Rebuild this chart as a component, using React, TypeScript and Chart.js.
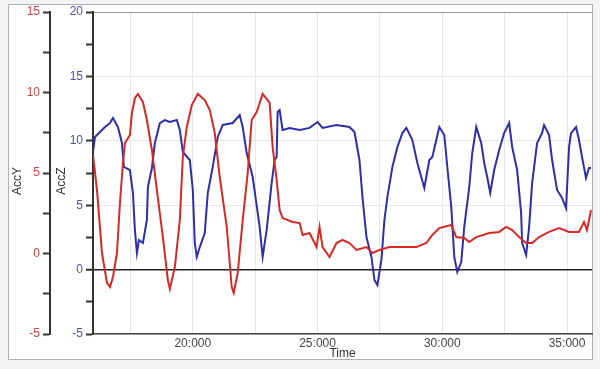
import React, { useEffect, useRef } from "react";
import { Chart, registerables } from "chart.js";

Chart.register(...registerables);

// AccY (red) samples: time in ms, value
const timeY = [16000, 16160, 16360, 16560, 16680, 16800, 16960, 17080, 17200, 17280, 17480, 17560, 17680, 17800, 18000, 18160, 18360, 18560, 18800, 19000, 19080, 19280, 19480, 19600, 19760, 19960, 20200, 20480, 20680, 20880, 21080, 21360, 21560, 21640, 21800, 22000, 22200, 22360, 22560, 22800, 23080, 23200, 23360, 23480, 23600, 24000, 24280, 24400, 24680, 24960, 25080, 25200, 25480, 25760, 26000, 26280, 26560, 26960, 27200, 27480, 27880, 28400, 28960, 29360, 29600, 29880, 30360, 30560, 30880, 31080, 31360, 31880, 32280, 32560, 32800, 33080, 33360, 33600, 33880, 34280, 34680, 35080, 35480, 35680, 35800, 35960];
const accY = [6.12, 3.94, 0.03, -1.83, -2.08, -1.46, 0.03, 3.14, 5.62, 6.86, 7.36, 8.73, 9.66, 9.91, 9.41, 8.29, 6.43, 3.94, 1.02, -1.65, -2.2, -0.84, 2.08, 5.99, 7.86, 9.22, 9.91, 9.53, 8.91, 7.48, 4.75, 1.65, -2.08, -2.45, -1.21, 2.08, 5.0, 8.29, 8.79, 9.91, 9.35, 6.61, 4.57, 2.7, 2.2, 1.96, 1.89, 1.15, 1.27, 0.4, 1.65, 0.4, -0.22, 0.65, 0.84, 0.65, 0.22, 0.4, 0.03, 0.22, 0.4, 0.4, 0.4, 0.65, 1.15, 1.58, 1.77, 1.02, 0.96, 0.71, 1.02, 1.27, 1.34, 1.65, 1.46, 1.02, 0.65, 0.65, 1.02, 1.34, 1.58, 1.34, 1.34, 1.96, 1.46, 2.7];

// AccZ (blue) samples: time in ms, value
const timeZ = [16000, 16080, 16280, 16480, 16680, 16800, 17000, 17160, 17240, 17480, 17600, 17680, 17760, 17840, 18000, 18160, 18200, 18360, 18480, 18680, 18880, 19080, 19360, 19480, 19600, 19880, 20000, 20080, 20160, 20280, 20480, 20600, 20800, 21000, 21200, 21600, 21880, 22000, 22160, 22400, 22680, 22800, 22960, 23160, 23280, 23360, 23400, 23480, 23600, 23880, 24280, 24680, 25000, 25200, 25760, 26280, 26480, 26680, 26800, 26960, 27160, 27280, 27400, 27560, 27680, 27800, 28000, 28200, 28400, 28560, 28800, 29000, 29280, 29480, 29600, 29760, 29880, 30080, 30200, 30360, 30480, 30600, 30760, 30880, 31080, 31200, 31360, 31560, 31680, 31800, 31920, 32080, 32280, 32480, 32680, 32800, 33000, 33160, 33200, 33360, 33480, 33600, 33800, 34000, 34080, 34280, 34400, 34600, 34800, 34960, 35080, 35160, 35360, 35480, 35600, 35760, 35880, 35960];
const accZ = [9.13, 10.3, 10.68, 11.07, 11.38, 11.77, 11.07, 9.83, 7.97, 7.73, 5.95, 3.07, 1.29, 2.3, 2.07, 3.85, 6.41, 7.89, 9.83, 11.38, 11.61, 11.46, 11.61, 10.84, 9.13, 8.51, 6.18, 2.07, 0.98, 1.75, 2.84, 5.95, 7.97, 10.3, 11.23, 11.38, 12.0, 11.07, 9.05, 7.19, 3.31, 0.98, 3.07, 6.72, 8.51, 8.74, 12.24, 12.39, 10.84, 11.0, 10.84, 11.0, 11.46, 11.0, 11.23, 11.07, 10.68, 8.51, 5.64, 2.53, 0.98, -0.81, -1.2, 0.75, 3.85, 5.64, 7.97, 9.52, 10.6, 11.0, 10.06, 8.28, 6.34, 8.51, 8.74, 10.06, 11.07, 10.45, 7.97, 4.86, 0.98, -0.19, 0.59, 3.31, 6.41, 9.05, 11.07, 9.83, 8.28, 7.19, 5.95, 7.73, 9.29, 10.6, 11.38, 9.52, 7.73, 4.39, 2.07, 1.13, 3.31, 6.72, 9.83, 10.6, 11.22, 10.45, 8.51, 6.18, 5.56, 4.78, 9.52, 10.6, 11.07, 10.06, 8.74, 7.11, 7.89, 7.89];

const timeTicks = [17500, 20000, 22500, 25000, 27500, 30000, 32500, 35000];
const timeRange = [16000, 36000];
const accYRange = [-5, 15];
const accZRange = [-5, 20];

const FONT = "'Liberation Sans', Arial, sans-serif";

function fmtTime(v: number): string {
  const s = Math.floor(v / 1000);
  const ms = Math.round(v % 1000);
  return `${s}:${String(ms).padStart(3, "0")}`;
}

// draws the rotated y-axis titles a little below the vertical centre, as in the original
const axisTitles = {
  id: "axisTitles",
  afterDraw(chart: any) {
    const ctx = chart.ctx;
    const yY = chart.scales.yY;
    const yZ = chart.scales.yZ;
    const cy = (chart.chartArea.top + chart.chartArea.bottom) / 2 + 8;
    ctx.save();
    ctx.fillStyle = "#333";
    ctx.font = `12px ${FONT}`;
    ctx.textAlign = "center";
    ctx.textBaseline = "middle";
    [
      { text: "AccY", x: yY.left + 18 },
      { text: "AccZ", x: yZ.left + 12 },
    ].forEach((t) => {
      ctx.save();
      ctx.translate(t.x, cy);
      ctx.rotate(-Math.PI / 2);
      ctx.fillText(t.text, 0, 0);
      ctx.restore();
    });
    ctx.restore();
  },
};

export default function App() {
  const ref = useRef<HTMLCanvasElement | null>(null);

  useEffect(() => {
    if (!ref.current) return;
    const chart = new Chart(ref.current, {
      type: "line",
      data: {
        datasets: [
          {
            label: "AccY",
            data: timeY.map((t, i) => ({ x: t, y: accY[i] })),
            borderColor: "#d42a26",
            borderWidth: 2,
            pointRadius: 0,
            tension: 0,
            yAxisID: "yY",
          },
          {
            label: "AccZ",
            data: timeZ.map((t, i) => ({ x: t, y: accZ[i] })),
            borderColor: "#2e2ea8",
            borderWidth: 2,
            pointRadius: 0,
            tension: 0,
            yAxisID: "yZ",
          },
        ],
      },
      options: {
        responsive: false,
        animation: false,
        layout: { padding: { left: 0, top: 12, right: 8, bottom: 0 } },
        plugins: { legend: { display: false }, tooltip: { enabled: false } },
        scales: {
          x: {
            type: "linear",
            min: timeRange[0],
            max: timeRange[1],
            afterBuildTicks: (axis: any) => {
              axis.ticks = timeTicks.map((v) => ({ value: v }));
            },
            afterFit: (s: any) => {
              s.height = 35;
            },
            ticks: {
              padding: 2,
              maxRotation: 0,
              autoSkip: false,
              color: "#444",
              font: { family: FONT, size: 12 },
              callback: (v: any) => (Number(v) % 5000 === 0 ? fmtTime(Number(v)) : ""),
            },
            grid: { color: "#e6e6e6", drawTicks: false },
            border: { color: "#444", width: 1.5 },
            title: {
              display: true,
              text: "Time",
              color: "#333",
              font: { family: FONT, size: 12 },
              padding: { top: 0, bottom: 8 },
            },
          },
          yY: {
            type: "linear",
            position: "left",
            weight: 2,
            min: accYRange[0],
            max: accYRange[1],
            afterFit: (s: any) => {
              s.width = 50;
            },
            ticks: {
              stepSize: 2.5,
              padding: 3,
              color: "#c84848",
              font: { family: FONT, size: 12 },
              callback: (v: any) => (Number(v) % 5 === 0 ? String(v) : ""),
            },
            grid: {
              drawOnChartArea: false,
              tickLength: 7,
              tickColor: "#333",
              tickWidth: 2,
            },
            border: { color: "#333", width: 2 },
            title: { display: false },
          },
          yZ: {
            type: "linear",
            position: "left",
            weight: 1,
            min: accZRange[0],
            max: accZRange[1],
            afterFit: (s: any) => {
              s.width = 43;
            },
            ticks: {
              stepSize: 2.5,
              padding: 3,
              color: "#5252a8",
              font: { family: FONT, size: 12 },
              callback: (v: any) => (Number(v) % 5 === 0 ? String(v) : ""),
            },
            grid: {
              color: (ctx: any) => {
                const v = ctx.tick ? ctx.tick.value : null;
                if (v === 0) return "#222";
                if (v === 20) return "#999";
                if (v !== null && v % 5 === 0) return "#e6e6e6";
                return "rgba(0,0,0,0)";
              },
              lineWidth: (ctx: any) => (ctx.tick && ctx.tick.value === 0 ? 1.5 : 1),
              tickLength: 7,
              tickColor: "#333",
              tickWidth: 2,
            },
            border: { color: "#333", width: 2 },
            title: { display: false },
          },
        },
      },
      plugins: [axisTitles],
    });
    return () => chart.destroy();
  }, []);

  return (
    <div
      style={{
        position: "fixed",
        left: 0,
        top: 0,
        width: 600,
        height: 369,
        background: "#f1f3f4",
        overflow: "hidden",
      }}
    >
      <div
        style={{
          position: "absolute",
          left: 8,
          top: 4,
          width: 585,
          height: 356,
          boxSizing: "border-box",
          border: "1px solid #b0b0b0",
          background: "#ffffff",
        }}
      />
      <canvas
        ref={ref}
        width={600}
        height={369}
        style={{ position: "absolute", left: 0, top: 0, width: 600, height: 369 }}
      />
    </div>
  );
}
